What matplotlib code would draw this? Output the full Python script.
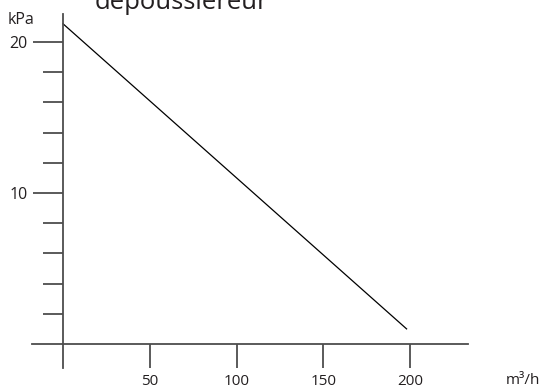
import matplotlib
matplotlib.use("Agg")
import matplotlib.pyplot as plt
from matplotlib.ticker import FixedLocator

# Pressure drop curve of the dust collector
flow = [0, 198]            # m³/h
pressure = [21.2, 1.0]     # kPa

x_ticks = [50, 100, 150, 200]
x_tick_labels = ["50", "100", "150", "200"]
y_major = [10, 20]
y_minor = [2, 4, 6, 8, 12, 14, 16, 18]

plt.rcParams['font.family'] = ['Open Sans', 'DejaVu Sans']
text_color = '#231f20'
axis_color = '#4d4d4d'

fig = plt.figure(figsize=(5.44, 3.90), dpi=100)
ax = fig.add_axes([32/544, 1 - 368/390, (468 - 32)/544, (368 - 14)/390])

ax.plot(flow, pressure, color='black', linewidth=0.9)

ax.set_xlim(-17.9, 233.4)
ax.set_ylim(-1.59, 21.85)

for side in ('top', 'right'):
    ax.spines[side].set_visible(False)
ax.spines['left'].set_position(('data', 0))
ax.spines['bottom'].set_position(('data', 0))
for side in ('left', 'bottom'):
    ax.spines[side].set_color(axis_color)
    ax.spines[side].set_linewidth(1.3)

ax.set_xticks(x_ticks)
ax.set_xticklabels(x_tick_labels)
ax.yaxis.set_major_locator(FixedLocator(y_major))
ax.yaxis.set_minor_locator(FixedLocator(y_minor))
ax.set_yticklabels([str(v) for v in y_major])

ax.tick_params(axis='x', direction='out', length=17.3, width=1.3, color=axis_color,
               labelsize=11, labelcolor=text_color, pad=4)
ax.tick_params(axis='y', which='major', direction='out', length=21.6, width=1.3,
               color=axis_color, labelsize=11.5, labelcolor=text_color, pad=4)
ax.tick_params(axis='y', which='minor', direction='out', length=14.4, width=1.3,
               color=axis_color)

fig.text(21/544, 1 - 20/390, "kPa", ha='center', va='center', fontsize=11.5, color=text_color)
fig.text(523/544, 1 - 381/390, "m³/h", ha='center', va='center', fontsize=11, color=text_color)
fig.text(181.5/544, 1 - 9/390, "dépoussiéreur", ha='center', va='baseline', fontsize=18.5,
         color=text_color)

fig.savefig("out.png", dpi=100)
